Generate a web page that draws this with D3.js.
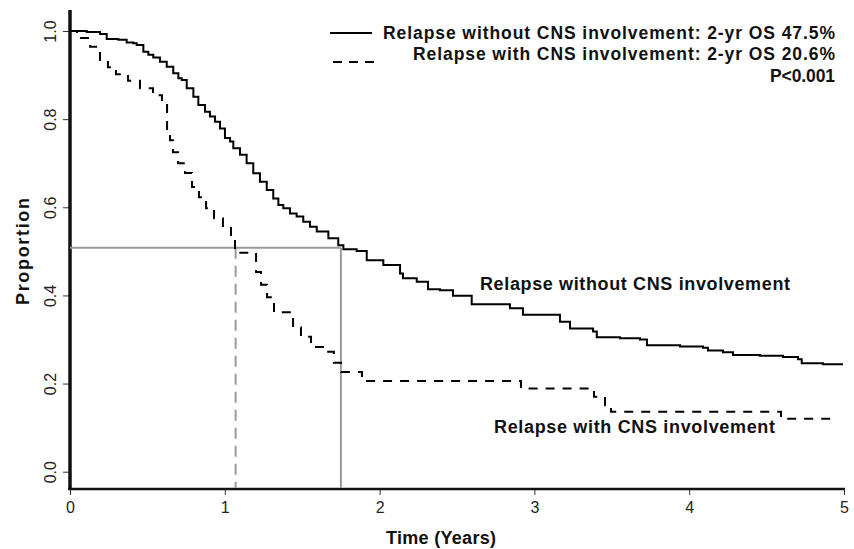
<!DOCTYPE html>
<html>
<head>
<meta charset="utf-8">
<script src="https://cdn.jsdelivr.net/npm/d3@7"></script>
<style>
  body { margin: 0; background: #fff; }
  text { font-family: "Liberation Sans", Arial, sans-serif; }
</style>
</head>
<body>
<svg></svg>
<script>
/* Data */
var timeNoCNS = [0, 0.108, 0.194, 0.237, 0.312, 0.366, 0.409, 0.431, 0.474, 0.506, 0.538, 0.581, 0.625, 0.667, 0.700, 0.722, 0.754, 0.797, 0.829, 0.872, 0.904, 0.937, 0.969, 1.001, 1.034, 1.055, 1.098, 1.141, 1.184, 1.227, 1.271, 1.313, 1.346, 1.378, 1.421, 1.464, 1.507, 1.550, 1.594, 1.669, 1.733, 1.766, 1.852, 1.917, 2.024, 2.132, 2.151, 2.240, 2.313, 2.390, 2.474, 2.595, 2.842, 2.926, 3.165, 3.230, 3.379, 3.403, 3.553, 3.682, 3.727, 3.941, 4.089, 4.121, 4.218, 4.283, 4.457, 4.606, 4.703, 4.727, 4.864, 4.994]
var survNoCNS = [1.0, 0.998, 0.993, 0.982, 0.980, 0.974, 0.972, 0.968, 0.953, 0.946, 0.940, 0.930, 0.919, 0.904, 0.893, 0.889, 0.870, 0.851, 0.832, 0.817, 0.806, 0.794, 0.779, 0.757, 0.749, 0.734, 0.719, 0.700, 0.677, 0.658, 0.639, 0.620, 0.605, 0.598, 0.586, 0.579, 0.567, 0.556, 0.545, 0.530, 0.514, 0.505, 0.501, 0.480, 0.469, 0.450, 0.439, 0.431, 0.414, 0.412, 0.399, 0.380, 0.371, 0.356, 0.340, 0.325, 0.318, 0.305, 0.303, 0.300, 0.287, 0.284, 0.281, 0.275, 0.271, 0.265, 0.263, 0.260, 0.255, 0.246, 0.244, 0.244]

var timeCNS = [0, 0.045, 0.13, 0.194, 0.245, 0.297, 0.375, 0.452, 0.536, 0.594, 0.627, 0.646, 0.665, 0.698, 0.743, 0.788, 0.833, 0.879, 0.930, 0.988, 1.040, 1.066, 1.202, 1.234, 1.273, 1.318, 1.441, 1.492, 1.557, 1.641, 1.705, 1.751, 1.886, 2.913, 3.385, 3.456, 3.495, 4.593, 4.955]
var survCNS = [1.0, 0.984, 0.964, 0.934, 0.918, 0.902, 0.887, 0.870, 0.854, 0.836, 0.762, 0.752, 0.725, 0.700, 0.678, 0.646, 0.623, 0.598, 0.575, 0.553, 0.526, 0.497, 0.453, 0.424, 0.396, 0.362, 0.328, 0.306, 0.283, 0.272, 0.247, 0.226, 0.206, 0.189, 0.170, 0.151, 0.136, 0.120, 0.120]

var medianNoCNS = 1.75
var medianCNS = 1.07
var medianLevel = 0.508

var xTicks = [0, 1, 2, 3, 4, 5]
var yTicks = [0.0, 0.2, 0.4, 0.6, 0.8, 1.0]

var legendLabels = ["Relapse without CNS involvement: 2-yr OS 47.5%", "Relapse with CNS involvement: 2-yr OS 20.6%", "P<0.001"]
var curveLabels = ["Relapse without CNS involvement", "Relapse with CNS involvement"]

var width = 854
var height = 549

/* SVG */
var svg = d3.select("svg")
    .attr("width", width)
    .attr("height", height)

/* Scales */
var xScale = d3.scaleLinear()
    .domain([0, 5])
    .range([70, 844])

var yScale = d3.scaleLinear()
    .domain([0, 1])
    .range([471.7, 31])

/* Axes */
var xAxis = d3.axisBottom(xScale)
    .tickValues(xTicks)
    .tickFormat(d3.format("d"))
    .tickSize(6)
    .tickSizeOuter(0)

var yAxis = d3.axisLeft(yScale)
    .tickValues(yTicks)
    .tickFormat(d3.format(".1f"))
    .tickSize(7)
    .tickSizeOuter(0)

var gx = svg.append("g")
    .attr("transform", "translate(0,489)")
    .call(xAxis)
gx.select(".domain").remove()
gx.selectAll("line").attr("stroke", "#333")
gx.selectAll("text")
    .attr("y", 13)
    .attr("fill", "#222")
    .style("font-size", "16px")

var gy = svg.append("g")
    .attr("transform", "translate(70,0)")
    .call(yAxis)
gy.select(".domain").remove()
gy.selectAll("line").attr("stroke", "#333")
gy.selectAll("text")
    .attr("x", 0)
    .attr("y", 0)
    .attr("dy", 0)
    .attr("text-anchor", "middle")
    .attr("transform", "translate(-14.5,0) rotate(-90)")
    .attr("fill", "#222")
    .style("font-size", "16px")

/* Axis lines (L box) */
svg.append("line")
    .attr("x1", 70).attr("x2", 70)
    .attr("y1", 10).attr("y2", 490)
    .attr("stroke", "#111").attr("stroke-width", 3.5)

svg.append("line")
    .attr("x1", 68).attr("x2", xScale(5) + 1)
    .attr("y1", 489).attr("y2", 489)
    .attr("stroke", "#111").attr("stroke-width", 2.5)

/* Median reference lines */
svg.append("line")
    .attr("x1", xScale(0)).attr("x2", xScale(medianNoCNS))
    .attr("y1", yScale(medianLevel)).attr("y2", yScale(medianLevel))
    .attr("stroke", "#9a9a9a").attr("stroke-width", 2)

svg.append("line")
    .attr("x1", xScale(medianNoCNS)).attr("x2", xScale(medianNoCNS))
    .attr("y1", yScale(medianLevel)).attr("y2", 488)
    .attr("stroke", "#9a9a9a").attr("stroke-width", 2)

svg.append("line")
    .attr("x1", xScale(medianCNS)).attr("x2", xScale(medianCNS))
    .attr("y1", yScale(medianLevel)).attr("y2", 488)
    .attr("stroke", "#9a9a9a").attr("stroke-width", 2)
    .attr("stroke-dasharray", "11,7")

/* Curves */
var line = d3.line()
    .x((d) => xScale(d[0]))
    .y((d) => yScale(d[1]))
    .curve(d3.curveStepAfter)

svg.append("path")
    .datum(d3.zip(timeNoCNS, survNoCNS))
    .attr("d", line)
    .attr("fill", "none")
    .attr("stroke", "#000")
    .attr("stroke-width", 2)

svg.append("path")
    .datum(d3.zip(timeCNS, survCNS))
    .attr("d", line)
    .attr("fill", "none")
    .attr("stroke", "#000")
    .attr("stroke-width", 2)
    .attr("stroke-dasharray", "9,8")

/* Legend */
svg.append("line")
    .attr("x1", 330).attr("x2", 372)
    .attr("y1", 33).attr("y2", 33)
    .attr("stroke", "#000").attr("stroke-width", 2)

svg.append("line")
    .attr("x1", 333).attr("x2", 375)
    .attr("y1", 62).attr("y2", 62)
    .attr("stroke", "#000").attr("stroke-width", 2)
    .attr("stroke-dasharray", "9,7")

var legendWidths = [452, 422, 65]

svg.append("g")
    .selectAll("text")
    .data(legendLabels)
    .enter()
        .append("text")
            .attr("x", 835)
            .attr("y", (d, i) => 38.5 + i * 21.8)
            .attr("text-anchor", "end")
            .attr("font-weight", "bold")
            .attr("fill", "#111")
            .attr("textLength", (d, i) => legendWidths[i])
            .attr("lengthAdjust", "spacing")
            .style("font-size", "17.5px")
            .text((d) => d)

/* Curve labels */
svg.append("text")
    .attr("x", 480).attr("y", 289.5)
    .attr("font-weight", "bold").attr("fill", "#111")
    .attr("textLength", 310).attr("lengthAdjust", "spacing")
    .style("font-size", "18px")
    .text(curveLabels[0])

svg.append("text")
    .attr("x", 494).attr("y", 432.5)
    .attr("font-weight", "bold").attr("fill", "#111")
    .attr("textLength", 281).attr("lengthAdjust", "spacing")
    .style("font-size", "18px")
    .text(curveLabels[1])

/* Axis titles */
svg.append("text")
    .attr("x", 386).attr("y", 543.5)
    .attr("font-weight", "bold").attr("fill", "#111")
    .attr("textLength", 110).attr("lengthAdjust", "spacing")
    .style("font-size", "18px")
    .text("Time (Years)")

svg.append("text")
    .attr("transform", "translate(28.5,305) rotate(-90)")
    .attr("font-weight", "bold").attr("fill", "#111")
    .attr("textLength", 107).attr("lengthAdjust", "spacing")
    .style("font-size", "18px")
    .text("Proportion")
</script>
</body>
</html>
